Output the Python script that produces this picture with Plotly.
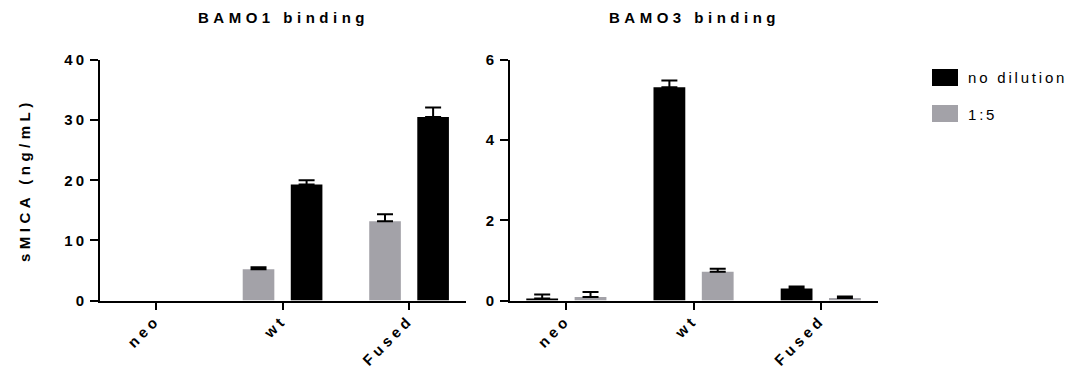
import plotly.graph_objects as go

W, H = 1079, 376

categories = ["neo", "wt", "Fused"]
cat_pos = [0, 1, 2]

# BAMO1 binding (left panel) - neo has no visible bar
bamo1_dil15 = [None, 5.2, 13.2]
bamo1_dil15_err = [None, 0.35, 1.15]
bamo1_nodil = [None, 19.3, 30.5]
bamo1_nodil_err = [None, 0.7, 1.6]

# BAMO3 binding (right panel)
bamo3_nodil = [0.05, 5.32, 0.3]
bamo3_nodil_err = [0.1, 0.17, 0.05]
bamo3_dil15 = [0.09, 0.72, 0.06]
bamo3_dil15_err = [0.12, 0.07, 0.04]

y1_ticks = [0, 10, 20, 30, 40]
y2_ticks = [0, 2, 4, 6]

BLACK = "#000000"
GRAY = "#a3a2a8"
FONT = "Liberation Sans, Arial, sans-serif"

BW = 0.25
OFF_L = -0.19 - BW / 2
OFF_R = 0.19 - BW / 2


def ls(t, v):
    return '<span style="letter-spacing:%spx">%s</span>' % (v, t)


def px_x(p):
    return p / W


def px_y(p):
    return 1 - p / H


def bar(x, y, err, color, offset, xa, ya):
    return go.Bar(
        x=x, y=y, width=BW, offset=offset,
        marker=dict(color=color, line=dict(width=0)),
        error_y=dict(type="data", symmetric=False, array=err,
                     arrayminus=[0 if e is not None else None for e in err],
                     color=BLACK, thickness=2, width=8),
        xaxis=xa, yaxis=ya, showlegend=False, hoverinfo="skip",
    )


fig = go.Figure()
fig.add_trace(bar(cat_pos, bamo1_dil15, bamo1_dil15_err, GRAY, OFF_L, "x", "y"))
fig.add_trace(bar(cat_pos, bamo1_nodil, bamo1_nodil_err, BLACK, OFF_R, "x", "y"))
fig.add_trace(bar(cat_pos, bamo3_nodil, bamo3_nodil_err, BLACK, OFF_L, "x2", "y2"))
fig.add_trace(bar(cat_pos, bamo3_dil15, bamo3_dil15_err, GRAY, OFF_R, "x2", "y2"))

tickfont = dict(family=FONT, size=15, color=BLACK, weight="bold")
xcommon = dict(
    tickmode="array", tickvals=cat_pos, ticktext=[ls(c, 4) for c in categories],
    tickangle=-45, ticklabelstandoff=-4,
    range=[-0.443, 2.45], showline=True, linecolor=BLACK, linewidth=2,
    ticks="outside", ticklen=7, tickwidth=2, tickcolor=BLACK,
    showgrid=False, zeroline=False, tickfont=tickfont, automargin=False,
)
ycommon = dict(
    showline=True, linecolor=BLACK, linewidth=2,
    ticks="outside", ticklen=8, tickwidth=2, tickcolor=BLACK,
    showgrid=False, zeroline=False, tickfont=tickfont, automargin=False,
    tickmode="array",
)

ydom = [px_y(300.5), px_y(60)]
fig.update_layout(
    width=W, height=H,
    margin=dict(l=0, r=0, t=0, b=0),
    paper_bgcolor="white", plot_bgcolor="white",
    barmode="overlay",
    xaxis=dict(domain=[px_x(100), px_x(466)], anchor="y", **xcommon),
    xaxis2=dict(domain=[px_x(510), px_x(878)], anchor="y2", **xcommon),
    yaxis=dict(domain=ydom, anchor="x", range=[0, 40], tickvals=y1_ticks,
               ticktext=[ls(v, 3) for v in y1_ticks], **ycommon),
    yaxis2=dict(domain=ydom, anchor="x2", range=[0, 6], tickvals=y2_ticks,
                ticktext=[ls(v, 3) for v in y2_ticks], **ycommon),
)

title_font = dict(family=FONT, size=15, color=BLACK, weight="bold")
annos = [
    dict(text=ls("BAMO1 binding", 4.5), x=px_x(283), y=px_y(17), font=title_font,
         xanchor="center", yanchor="middle"),
    dict(text=ls("BAMO3 binding", 4.5), x=px_x(694), y=px_y(17), font=title_font,
         xanchor="center", yanchor="middle"),
    dict(text=ls("sMICA (ng/mL)", 4.5), x=px_x(24), y=px_y(180), font=title_font,
         textangle=-90, xanchor="center", yanchor="middle"),
]

legend_items = [("no dilution", BLACK, 69, 86), ("1:5", GRAY, 105, 122)]
shapes = []
for name, col, t, b in legend_items:
    shapes.append(dict(type="rect", xref="paper", yref="paper",
                       x0=px_x(932), x1=px_x(958), y0=px_y(b), y1=px_y(t),
                       fillcolor=col, line=dict(width=0)))
    annos.append(dict(text=ls(name, 2.8), x=px_x(966), y=px_y((t + b) / 2 + 0.5),
                      xanchor="left", yanchor="middle",
                      font=dict(family=FONT, size=15, color=BLACK)))

for a in annos:
    a.update(xref="paper", yref="paper", showarrow=False)
fig.update_layout(annotations=annos, shapes=shapes)

post = "document.body.style.margin='0';document.body.style.padding='0';document.body.style.overflow='hidden';"
fig.write_html("out.html", config={"displayModeBar": False}, post_script=post)
